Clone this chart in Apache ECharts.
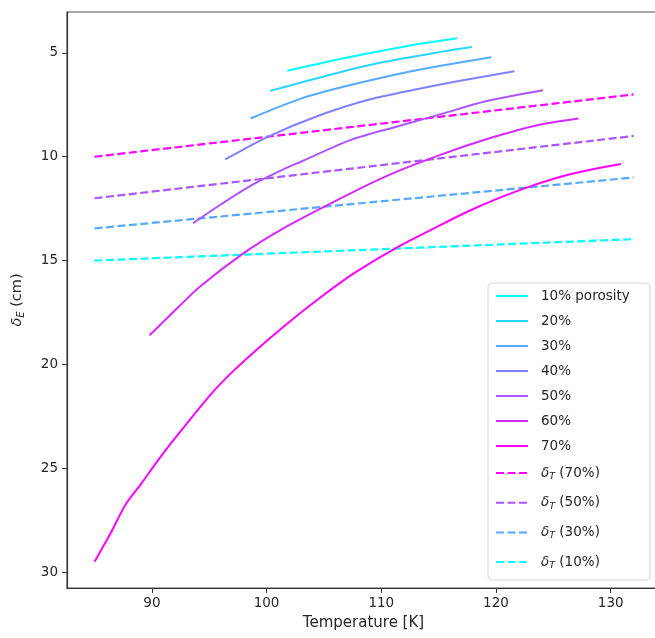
<!DOCTYPE html>
<html><head><meta charset="utf-8">
<script src="https://cdn.jsdelivr.net/npm/echarts@6/dist/echarts.min.js"></script>
<style>html,body{margin:0;padding:0;background:#fff}#c{width:655px;height:638px}</style>
</head><body><div id="c"></div>
<script>
// ---- data ----
const porosityNames = ['10% porosity', '20%', '30%', '40%', '50%', '60%', '70%'];
const t10 = [101.8, 105.9, 110.3, 113.5, 116.6];
const d10 = [5.86, 5.35, 4.87, 4.55, 4.29];
const t20 = [100.3, 105.9, 110.3, 115.2, 117.9];
const d20 = [6.83, 6.0, 5.43, 4.95, 4.72];
const t30 = [98.6, 103.0, 107.3, 111.7, 115.2, 119.6];
const d30 = [8.16, 7.2, 6.55, 5.99, 5.62, 5.21];
const t40 = [96.4, 100.1, 104.4, 108.8, 113.1, 117.0, 121.6];
const d40 = [10.13, 9.04, 8.05, 7.27, 6.75, 6.33, 5.88];
const t50 = [93.6, 96.0, 98.6, 101.5, 103.0, 107.3, 111.7, 115.2, 119.2, 124.1];
const d50 = [13.2, 12.3, 11.4, 10.6, 10.24, 9.2, 8.5, 7.95, 7.32, 6.8];
const t60 = [89.8, 92.2, 94.2, 98.0, 101.2, 105.3, 110.3, 115.2, 119.5, 123.6, 127.2];
const d60 = [18.6, 17.3, 16.25, 14.64, 13.53, 12.33, 10.97, 9.9, 9.1, 8.48, 8.16];
const t70 = [85.0, 86.4, 87.7, 89.0, 90.5, 91.9, 95.1, 96.6, 98.3, 101.5, 104.4, 107.6, 111.2, 114.6, 117.5, 120.4, 123.3, 126.2, 129.1, 130.9];
const d70 = [29.5, 28.13, 26.76, 25.8, 24.65, 23.64, 21.47, 20.59, 19.7, 18.18, 16.9, 15.62, 14.42, 13.45, 12.65, 11.96, 11.37, 10.88, 10.53, 10.35];

const thermalNames = ['δT (70%)', 'δT (50%)', 'δT (30%)', 'δT (10%)'];
const thermalT = [85, 132];
const thermal70 = [10.0, 7.0];
const thermal50 = [12.0, 9.0];
const thermal30 = [13.45, 11.0];
const thermal10 = [15.0, 13.97];

const xTicks = [90, 100, 110, 120, 130];
const yTicks = [5, 10, 15, 20, 25, 30];

// ---- styling ----
const solidColors = ['#00ffff', '#2ad5ff', '#55aaff', '#8080ff', '#aa55ff', '#d52aff', '#ff00ff'];
const dashColors = ['#ff00ff', '#aa55ff', '#55aaff', '#00ffff'];
const FONT = 'DejaVu Sans';
const TXT = '#262626';

const solidT = [t10, t20, t30, t40, t50, t60, t70];
const solidD = [d10, d20, d30, d40, d50, d60, d70];
const thermalD = [thermal70, thermal50, thermal30, thermal10];

const series = [];
porosityNames.forEach((name, i) => {
  series.push({
    name, type: 'line', symbol: 'none', smooth: 0.3,
    data: solidT[i].map((t, j) => [t, solidD[i][j]]),
    lineStyle: { color: solidColors[i], width: 2 },
    itemStyle: { color: solidColors[i] },
    z: 3
  });
});
thermalNames.forEach((name, i) => {
  series.push({
    name, type: 'line', symbol: 'none',
    data: thermalT.map((t, j) => [t, thermalD[i][j]]),
    lineStyle: { color: dashColors[i], width: 2.2, type: [8, 3.5] },
    itemStyle: { color: dashColors[i] },
    z: 2
  });
});

const rich = {
  d: { fontFamily: FONT, fontSize: 13.5, fontStyle: 'italic', color: TXT },
  s: { fontFamily: FONT, fontSize: 9.5, fontStyle: 'italic', color: TXT, padding: [7, 0, 0, 0] },
  n: { fontFamily: FONT, fontSize: 13.5, color: TXT }
};

const chart = echarts.init(document.getElementById('c'), null, { renderer: 'canvas' });
chart.setOption({
  animation: false,
  backgroundColor: '#fff',
  grid: { left: 67, top: 12, right: -5, bottom: 50, show: true, borderColor: '#555', borderWidth: 1.2, outerBoundsMode: 'none', containLabel: false },
  xAxis: {
    type: 'value', min: 82.6, max: 134.3,
    name: 'Temperature [K]', nameLocation: 'middle', nameGap: 28,
    nameTextStyle: { fontFamily: FONT, fontSize: 15, color: TXT },
    axisLine: { show: true, onZero: false, lineStyle: { color: '#333', width: 1.2 } },
    axisTick: { show: true, length: 5, customValues: xTicks, lineStyle: { color: '#333' } },
    axisLabel: { customValues: xTicks, margin: 8, fontFamily: FONT, fontSize: 13.5, color: TXT },
    splitLine: { show: false }
  },
  yAxis: {
    type: 'value', inverse: true, min: 3.03, max: 30.77,
    name: '{d|δ}{s|E} (cm)', nameLocation: 'middle', nameGap: 41, nameRotate: 90,
    nameTextStyle: { fontFamily: FONT, fontSize: 14.5, color: TXT, rich: {
      d: { fontFamily: FONT, fontSize: 14.5, fontStyle: 'italic', color: TXT },
      s: { fontFamily: FONT, fontSize: 10, fontStyle: 'italic', color: TXT, padding: [7, 0, 0, 0] }
    } },
    axisLine: { show: true, onZero: false, lineStyle: { color: '#333', width: 1.2 } },
    axisTick: { show: true, length: 5, customValues: yTicks, lineStyle: { color: '#333' } },
    axisLabel: { customValues: yTicks, margin: 9, fontFamily: FONT, fontSize: 13.5, color: TXT },
    splitLine: { show: false }
  },
  graphic: [{
    type: 'rect', z: 50,
    shape: { x: 488, y: 283, width: 162, height: 297, r: 4 },
    style: { fill: 'rgba(255,255,255,0.85)', stroke: '#d6d6d6', lineWidth: 1 }
  }],
  legend: [{
    data: porosityNames, orient: 'vertical', left: 495, top: 288, padding: 0,
    itemWidth: 32, itemHeight: 14, itemGap: 9, z: 60,
    itemStyle: { opacity: 0 },
    formatter: n => '{n|' + n + '}',
    textStyle: { fontFamily: FONT, fontSize: 13.5, color: TXT, lineHeight: 16, rich: { n: { fontFamily: FONT, fontSize: 13.5, color: TXT, padding: [0, 0, 0, 8] } } },
    selectedMode: false
  }, {
    data: thermalNames, orient: 'vertical', left: 495, top: 465, padding: 0,
    itemWidth: 32, itemHeight: 14, itemGap: 13.2, z: 60,
    itemStyle: { opacity: 0 },
    formatter: n => n.replace('δT', '{p|}{d|δ}{s|T}{n|') + '}',
    textStyle: { fontFamily: FONT, fontSize: 13.5, color: TXT, lineHeight: 16, rich: Object.assign({ p: { width: 8 } }, rich) },
    selectedMode: false
  }],
  series
});
</script>
</body></html>
